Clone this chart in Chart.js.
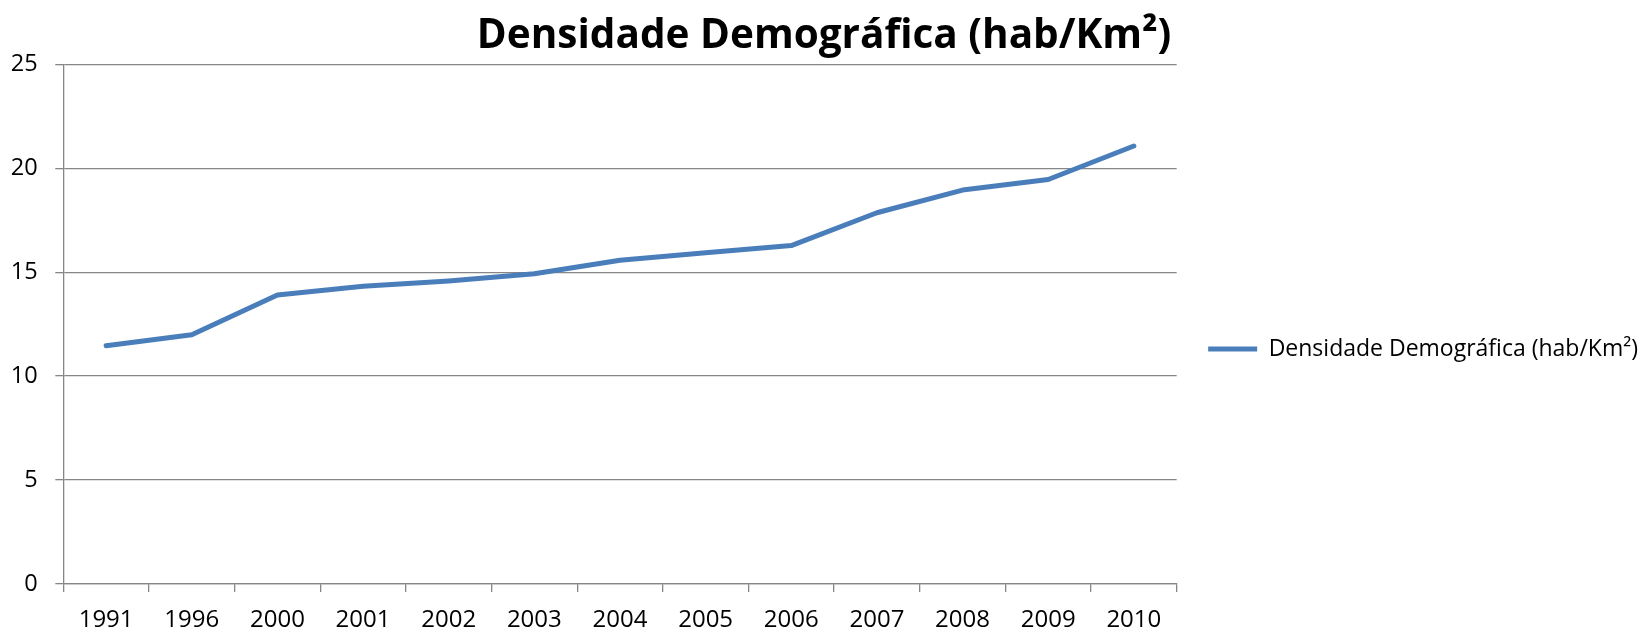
<!DOCTYPE html>
<html>
<head>
<meta charset="utf-8">
<script src="https://cdn.jsdelivr.net/npm/chart.js@4.4.1/dist/chart.umd.min.js"></script>
<style>
  html, body { margin: 0; padding: 0; background: #ffffff; }
  #wrap { width: 1648px; height: 632px; position: relative; }
</style>
</head>
<body>
<div id="wrap"><canvas id="c"></canvas></div>
<script>
const categories = ['1991', '1996', '2000', '2001', '2002', '2003', '2004', '2005', '2006', '2007', '2008', '2009', '2010'];
const densidade = [11.46, 11.99, 13.9, 14.32, 14.58, 14.92, 15.57, 15.93, 16.28, 17.86, 18.95, 19.46, 21.07];
const seriesName = 'Densidade Demográfica (hab/Km²)';
const chartTitle = 'Densidade Demográfica (hab/Km²)';
const yTicks = [0, 5, 10, 15, 20, 25];

const FONT = "'Open Sans', 'Liberation Sans', sans-serif";
const GRID = '#868686';

new Chart(document.getElementById('c'), {
  type: 'line',
  data: {
    labels: categories,
    datasets: [{
      label: seriesName,
      data: densidade,
      borderColor: '#4A7EBB',
      backgroundColor: '#4A7EBB',
      borderWidth: 5,
      borderCapStyle: 'round',
      borderJoinStyle: 'round',
      pointRadius: 0,
      pointHoverRadius: 0,
      tension: 0,
      fill: false,
      pointStyle: 'line',
      yAxisID: 'y'
    }]
  },
  options: {
    responsive: true,
    maintainAspectRatio: false,
    animation: false,
    layout: { padding: { left: 0, right: 0, top: 0, bottom: 0 } },
    plugins: {
      tooltip: { enabled: false },
      title: {
        display: true,
        text: chartTitle,
        color: '#000000',
        font: { family: FONT, size: 40.5, weight: 'bold', lineHeight: 1.2 },
        padding: { top: 12.5, bottom: 3.2 }
      },
      legend: {
        display: true,
        position: 'right',
        align: 'center',
        maxWidth: 480,
        title: { display: true, text: ' ', font: { size: 10, lineHeight: 1.2 }, padding: { top: 54, bottom: 0 } },
        labels: {
          usePointStyle: true,
          pointStyle: 'line',
          pointStyleWidth: 49,
          padding: 10,
          color: '#000000',
          font: { family: FONT, size: 23 }
        }
      }
    },
    scales: {
      x: {
        type: 'category',
        offset: true,
        afterFit: (scale) => { scale.height = 48; },
        grid: { display: true, offset: true, drawOnChartArea: false, drawTicks: true, tickLength: 8, color: GRID, lineWidth: 1.3, tickColor: GRID, tickWidth: 1.3 },
        border: { display: true, color: GRID, width: 1.3 },
        ticks: { color: '#000000', font: { family: FONT, size: 24, lineHeight: 1.2 }, padding: 13.3, maxRotation: 0, autoSkip: false }
      },
      y: {
        type: 'linear',
        position: 'left',
        min: 0,
        max: 25,
        afterFit: (scale) => { scale.width = 63.3; },
        afterBuildTicks: (scale) => { scale.ticks = yTicks.map(v => ({ value: v })); },
        grid: { display: true, drawOnChartArea: true, drawTicks: true, tickLength: 8, color: GRID, lineWidth: 1.3, tickColor: GRID, tickWidth: 1.3 },
        border: { display: true, color: GRID, width: 1.3 },
        ticks: { color: '#000000', font: { family: FONT, size: 23.5, lineHeight: 1.2 }, padding: 17.6 }
      },
      pad: {
        type: 'linear',
        position: 'right',
        display: true,
        grid: { display: false, drawTicks: false },
        border: { display: false },
        ticks: { display: false },
        afterFit: (scale) => { scale.width = 21.5; }
      }
    }
  }
});
</script>
</body>
</html>
